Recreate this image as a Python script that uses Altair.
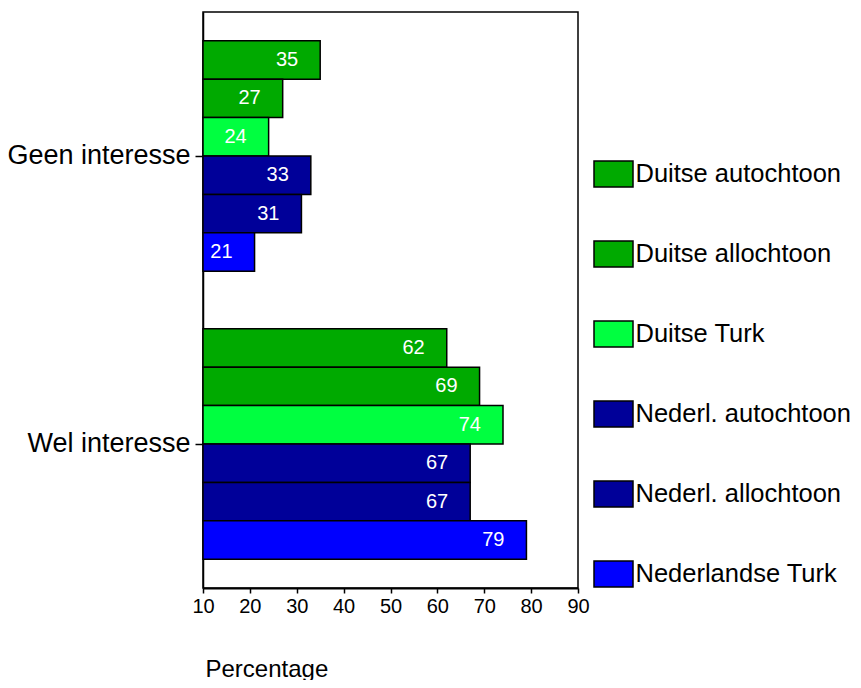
import altair as alt
import pandas as pd

categories = ["Geen interesse", "Wel interesse"]
series = ["Duitse autochtoon", "Duitse allochtoon", "Duitse Turk",
          "Nederl. autochtoon", "Nederl. allochtoon", "Nederlandse Turk"]
geen = [35, 27, 24, 33, 31, 21]
wel = [62, 69, 74, 67, 67, 79]
colors = ["#00AA00", "#00AA00", "#00FF40", "#000099", "#000099", "#0000FF"]
x_ticks = [10, 20, 30, 40, 50, 60, 70, 80, 90]

rows = []
for cat, vals in zip(categories, [geen, wel]):
    for s, v in zip(series, vals):
        rows.append({"cat": cat, "series": s, "value": v, "base": 10})
df = pd.DataFrame(rows)

FONT = "Liberation Sans"

y = alt.Y("cat:N", sort=categories, title=None,
          scale=alt.Scale(paddingInner=0.2, paddingOuter=0.1),
          axis=alt.Axis(labelFontSize=27, labelFont=FONT, labelColor="black",
                        tickSize=8, tickColor="black", tickWidth=1.5,
                        domainColor="black", domainWidth=1.5, labelPadding=5,
                        labelLimit=300))
yoff = alt.YOffset("series:N", sort=series, scale=alt.Scale(paddingInner=0, paddingOuter=0))
x = alt.X("value:Q", title="Percentage",
          scale=alt.Scale(domain=[10, 90], nice=False, zero=False),
          axis=alt.Axis(values=x_ticks, grid=False, labelFontSize=20,
                        labelFont=FONT, labelColor="black", labelFlush=False,
                        tickSize=5, tickColor="black", tickWidth=1.5,
                        domainColor="black", domainWidth=2, labelPadding=3,
                        titleFont=FONT, titleFontSize=24, titleFontWeight="normal",
                        titleColor="black", titleAnchor="start", titleAlign="left",
                        titleX=2, titleY=88, titleBaseline="alphabetic"))

bars = alt.Chart(df).mark_bar(stroke="black", strokeWidth=1.5, opacity=1).encode(
    y=y, yOffset=yoff, x=x, x2="base:Q",
    color=alt.Color("series:N", sort=series,
                    scale=alt.Scale(domain=series, range=colors),
                    legend=alt.Legend(title=None, orient="none", legendX=396.5, legendY=148,
                                      symbolType="M-1.5,-1H1.5V1H-1.5Z",
                                      symbolSize=676, symbolStrokeColor="black",
                                      symbolStrokeWidth=1.5, symbolOpacity=1,
                                      labelFont=FONT, labelFontSize=25.5, labelColor="black",
                                      labelOffset=8, rowPadding=48, padding=0,
                                      labelLimit=300)),
)

labels = alt.Chart(df).mark_text(align="right", baseline="middle", dx=-22,
                                 color="white", fontSize=20, font=FONT).encode(
    y=alt.Y("cat:N", sort=categories), yOffset=alt.YOffset("series:N", sort=series),
    x=alt.X("value:Q"), text=alt.Text("value:Q"),
)

chart = alt.layer(bars, labels).properties(
    width=375, height=576,
    autosize=alt.AutoSizeParams(type="none"),
    padding={"left": 195, "top": 4, "right": 275, "bottom": 92},
    background="white",
).configure_view(stroke="black", strokeWidth=1.5)

chart.save("out.html", embed_options={"renderer": "svg", "actions": False})
